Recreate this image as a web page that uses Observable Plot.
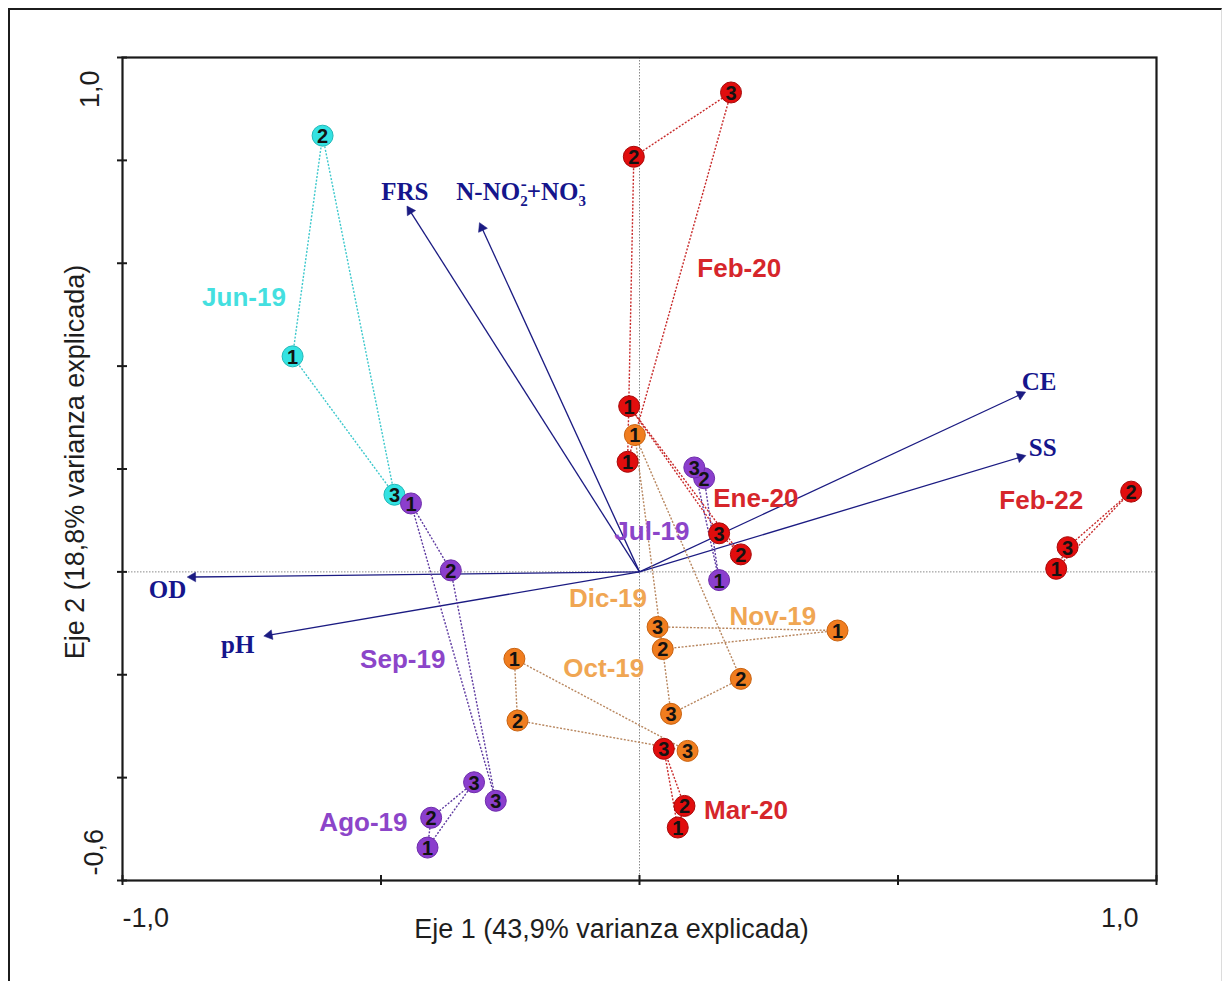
<!DOCTYPE html>
<html><head><meta charset="utf-8">
<script src="https://cdn.jsdelivr.net/npm/d3@7"></script>
<script src="https://cdn.jsdelivr.net/npm/@observablehq/plot@0.6"></script>
<style>
html,body{margin:0;padding:0;background:#fff;}
#wrap{position:relative;width:1223px;height:981px;overflow:hidden;background:#fff;}
#chart{position:absolute;left:0;top:0;}
#border{position:absolute;left:8px;top:8px;width:1214px;height:1000px;border-top:2px solid #1c1c1c;border-left:2px solid #1c1c1c;border-right:1px solid #dcdcdc;box-sizing:border-box;pointer-events:none;z-index:2;}
</style></head><body>
<div id="wrap"><div id="chart"></div><div id="border"></div></div>
<script>
// ---- Data (CCA-style biplot scores) ----
const monthNames = ["Jun-19","Jul-19","Ago-19","Sep-19","Oct-19","Nov-19","Dic-19","Ene-20","Feb-20","Mar-20","Feb-22"];
const monthFamily = ["cyan","purple","purple","purple","orange","orange","orange","red","red","red","red"];

// samples 1, 2, 3 of each month: [eje1, eje2]
const jun19 = [[-0.671, 0.419], [-0.613, 0.848], [-0.474, 0.150]];
const jul19 = [[0.154, -0.016], [0.125, 0.182], [0.106, 0.203]];
const ago19 = [[-0.410, -0.536], [-0.403, -0.478], [-0.320, -0.409]];
const sep19 = [[-0.442, 0.133], [-0.365, 0.003], [-0.278, -0.445]];
const oct19 = [[-0.242, -0.169], [-0.236, -0.289], [0.093, -0.348]];
const nov19 = [[0.383, -0.114], [0.045, -0.150], [0.035, -0.107]];
const dic19 = [[-0.009, 0.266], [0.196, -0.208], [0.061, -0.276]];
const ene20 = [[-0.020, 0.322], [0.196, 0.034], [0.154, 0.075]];
const feb20 = [[-0.023, 0.214], [-0.011, 0.807], [0.177, 0.932]];
const mar20 = [[0.074, -0.497], [0.087, -0.455], [0.047, -0.344]];
const feb22 = [[0.806, 0.006], [0.951, 0.156], [0.828, 0.048]];
const monthSamples = [jun19, jul19, ago19, sep19, oct19, nov19, dic19, ene20, feb20, mar20, feb22];

// month label anchors (data units)
const monthLabelX = [-0.765, 0.024, -0.534, -0.458, -0.069, 0.258, -0.061, 0.225, 0.193, 0.206, 0.777];
const monthLabelY = [0.534, 0.078, -0.487, -0.170, -0.189, -0.088, -0.053, 0.142, 0.589, -0.464, 0.138];

// environmental variable vectors
const varNames = ["FRS", "N-NO₂⁻+NO₃⁻", "CE", "SS", "OD", "pH"];
const varX = [-0.444, -0.305, 0.737, 0.737, -0.864, -0.716];
const varY = [0.702, 0.669, 0.345, 0.223, -0.010, -0.123];
const varLabelX = [-0.454, -0.229, 0.773, 0.780, -0.913, -0.777];
const varLabelY = [0.739, 0.739, 0.370, 0.240, -0.035, -0.142];

// axes
const xDomain = [-1, 1];
const yDomain = [-0.6, 1.0];
const xTicks = [-1, -0.5, 0, 0.5, 1];
const yTicks = [-0.6, -0.4, -0.2, 0, 0.2, 0.4, 0.6, 0.8, 1.0];
const xTickLabels = ["-1,0", "1,0"];
const yTickLabels = ["-0,6", "1,0"];
const xTitle = "Eje 1 (43,9% varianza explicada)";
const yTitle = "Eje 2 (18,8% varianza explicada)";

// ---- Styles ----
const pointColor = {cyan: "#34e2e2", purple: "#8b3ecd", orange: "#f07d1f", red: "#e10d0d"};
const pointEdge = {cyan: "#22b8b8", purple: "#6e2cab", orange: "#c9620f", red: "#a80808"};
const lineColor = {cyan: "#3cc8cc", purple: "#5e3aa0", orange: "#b8865e", red: "#c82a2a"};
const labelColor = {cyan: "#44dfe0", purple: "#8c45c9", orange: "#f0a653", red: "#d6262b"};
const navy = "#1b1b82";
const ink = "#1e1e1e";

// ---- Tables built from the arrays ----
const samples = monthSamples.flatMap((pts, g) => pts.map((p, i) => ({
  month: monthNames[g], fam: monthFamily[g], n: String(i + 1), x: p[0], y: p[1]
})));
const edges = monthSamples.flatMap((pts, g) => [[0, 1], [1, 2], [2, 0]].map(([a, b]) => ({
  fam: monthFamily[g], x1: pts[a][0], y1: pts[a][1], x2: pts[b][0], y2: pts[b][1]
})));
const monthLabels = monthNames.map((m, g) => ({text: m, fam: monthFamily[g], x: monthLabelX[g], y: monthLabelY[g]}));
const vectors = varNames.map((v, i) => ({name: v, x: varX[i], y: varY[i], lx: varLabelX[i], ly: varLabelY[i]}));

const chart = Plot.plot({
  width: 1223, height: 981,
  marginLeft: 122, marginRight: 67, marginTop: 57, marginBottom: 101,
  x: {domain: xDomain, axis: null},
  y: {domain: yDomain, axis: null},
  style: {fontFamily: "'Liberation Sans', Arial, sans-serif", background: "transparent", overflow: "visible"},
  marks: [
    // zero reference lines
    Plot.ruleX([0], {stroke: "#8a8a8a", strokeWidth: 1, strokeDasharray: "1.5,1.5"}),
    Plot.ruleY([0], {stroke: "#8a8a8a", strokeWidth: 1, strokeDasharray: "1.5,1.5"}),
    // variable arrows
    Plot.link(vectors, {x1: d => 0, y1: d => 0, x2: "x", y2: "y", stroke: navy, strokeWidth: 1.3}),
    Plot.dot(vectors, {x: "x", y: "y", symbol: "triangle", r: 3.6, fill: navy, stroke: navy, strokeWidth: 0.5,
      rotate: d => Math.atan2(d.x, d.y) * 180 / Math.PI}),
    Plot.text(vectors, {x: "lx", y: "ly", text: "name", fill: "#15158c", fontSize: 25, fontWeight: "bold",
      fontFamily: "'Liberation Serif', 'Times New Roman', serif"}),
    // month polygons
    Plot.link(edges, {x1: "x1", y1: "y1", x2: "x2", y2: "y2", stroke: d => lineColor[d.fam],
      strokeWidth: 1.4, strokeDasharray: "2,1.6"}),
    // sample points
    Plot.dot(samples, {x: "x", y: "y", r: 10.5, fill: d => pointColor[d.fam], stroke: d => pointEdge[d.fam], strokeWidth: 1}),
    Plot.text(samples, {x: "x", y: "y", text: "n", fill: "#121212", fontSize: 20, fontWeight: "bold", dy: 1}),
    // month labels
    Plot.text(monthLabels, {x: "x", y: "y", text: "text", fill: d => labelColor[d.fam], fontSize: 26, fontWeight: "bold"}),
    // frame and ticks
    Plot.frame({stroke: "#1a1a1a", strokeWidth: 2.2}),
    Plot.ruleX(xTicks, {x: d => d, y1: d => yDomain[0], y2: d => yDomain[0], insetTop: -5, insetBottom: -5, stroke: "#1a1a1a", strokeWidth: 2}),
    Plot.ruleY(yTicks, {y: d => d, x1: d => xDomain[0], x2: d => xDomain[0], insetLeft: -5, insetRight: -5, stroke: "#1a1a1a", strokeWidth: 2}),
    // tick labels
    Plot.text([xTickLabels[0]], {x: d => xDomain[0], y: d => yDomain[0], text: d => d, textAnchor: "start", dy: 38, fontSize: 27, fill: ink}),
    Plot.text([xTickLabels[1]], {x: d => xDomain[1], y: d => yDomain[0], text: d => d, textAnchor: "end", dx: -18, dy: 38, fontSize: 27, fill: ink}),
    Plot.text([yTickLabels[0]], {x: d => xDomain[0], y: d => yDomain[0], text: d => d, textAnchor: "start", rotate: -90, dx: -28, dy: -5, fontSize: 27, fill: ink}),
    Plot.text([yTickLabels[1]], {x: d => xDomain[0], y: d => yDomain[1], text: d => d, textAnchor: "end", rotate: -90, dx: -32, dy: 13, fontSize: 27, fill: ink}),
    // axis titles
    Plot.text([xTitle], {frameAnchor: "bottom", textAnchor: "middle", text: d => d, dx: -28, dy: 57, fontSize: 27, fill: ink}),
    Plot.text([yTitle], {frameAnchor: "left", textAnchor: "middle", text: d => d, rotate: -90, dx: -47, dy: -7, fontSize: 27, fill: ink})
  ]
});

// render chemical formula label with sub/superscripts
d3.select(chart).selectAll("text").filter(function() { return this.textContent === varNames[1]; }).each(function() {
  const t = d3.select(this);
  t.text(null);
  t.append("tspan").text("N-NO");
  t.append("tspan").attr("font-size", 15).attr("dy", 6).text("2");
  t.append("tspan").attr("font-size", 18).attr("dx", -7).attr("dy", -16).text("-");
  t.append("tspan").attr("dy", 10).text("+NO");
  t.append("tspan").attr("font-size", 15).attr("dy", 6).text("3");
  t.append("tspan").attr("font-size", 18).attr("dx", -7).attr("dy", -16).text("-");
});

document.getElementById("chart").appendChild(chart);
</script>
</body></html>
